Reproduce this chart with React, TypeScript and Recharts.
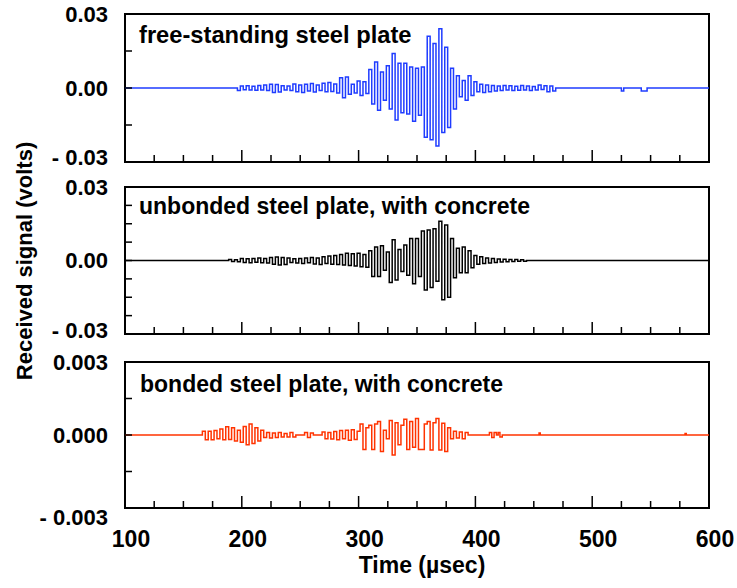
import { LineChart, Line, XAxis, YAxis, ReferenceArea } from 'recharts';

// time axis (microseconds)
const timeTicks = [100, 125, 150, 175, 200, 225, 250, 275, 300, 325, 350, 375, 400, 425, 450, 475, 500, 525, 550, 575, 600];
const sampleStep = 2.5;

// free-standing plate, mV, samples every 2.5 us from 190 us
const freeStart = 190;
const freeMv = [
  0, 0, 0, -1.0, 0.8, -0.7, 0.9, -0.8, 0.7, -0.9, 1.0, -0.8, 1.2, -1.0, 1.5, -1.8,
  1.4, -1.6, 0.9, -0.8, 0.8, -1.0, 1.6, -1.5, 1.2, -1.8, 1.5, -1.2, 1.8, -1.6, 1.2, -1.0,
  1.9, -1.5, 2.2, -1.4, 1.6, -2.0, 4.2, -4.0, 4.5, -2.5, 1.5, -2.0, 2.8, -3.0, 2.5, -2.2,
  7.5, -6.5, 10.5, -9.0, 6.5, -5.0, 9.0, -8.5, 14.0, -13.0, 10.0, -10.0, 10.0, -10.5, 8.5, -13.5,
  8.0, -11.0, 8.5, -20.0, 21.0, -21.0, 18.0, -23.5, 24.0, -18.0, 16.5, -16.0, 8.0, -8.5, 5.0, -3.5,
  3.0, -5.0, 5.0, -3.0, 2.5, -1.5, 1.5, -1.8, 1.2, -1.5, 1.0, -1.2, 0.8, -1.0, 1.0, -0.8,
  0.9, -1.0, 0.7, -0.9, 1.0, -0.8, 0.8, -1.0, 0.6, -0.8, 1.2, -0.6, 0.9, -1.5, 0.8, -1.2, 0,
];
const freeBlips: [number, number][] = [[524, 0], [526, -1.2], [528, 0], [541, 0], [543, -1.2], [546, -1.2], [548, 0]];

// unbonded plate with concrete, mV, from 187.5 us
const unbondedStart = 187.5;
const unbondedMv = [
  0, 0.4, -0.4, 0.3, -0.5, 0.8, -0.8, 0.7, -0.9, 0.8, -0.7, 1.0, -0.9, 0.8, -1.0, 1.2, -1.5,
  1.4, -1.8, 1.2, -1.6, 1.0, -0.8, 0.7, -1.0, 0.8, -1.2, 1.0, -0.9, 1.2, -1.4, 1.0, -1.6,
  1.5, -1.2, 1.8, -1.5, 2.0, -1.6, 2.5, -1.8, 3.0, -2.0, 2.8, -2.2, 3.0, -2.5, 2.5, -2.8,
  4.0, -6.5, 5.5, -6.5, 6.0, -4.0, 3.5, -9.0, 8.5, -8.0, 4.5, -4.5, 6.3, -6.0, 9.0, -9.5,
  9.0, -6.5, 12.0, -12.0, 12.5, -11.0, 13.0, -8.5, 16.0, -16.0, 14.5, -15.0, 9.0, -7.0, 5.0, -5.0,
  5.5, -5.0, 4.0, -3.0, 2.0, -1.5, 1.5, -1.2, 1.0, -1.0, 0.8, -0.8, 0.6, -0.6, 0.5, -0.5,
  0.4, -0.4, 0.4, -0.3, 0.3, -0.3, 0,
];

// bonded plate with concrete, units of 0.1 mV, from 165 us
const bondedStart = 165;
const bondedTenthMv = [
  0, 1.5, -2.0, 1.5, -2.0, 1.8, -1.5, 2.5, -2.0, 3.4, -1.8, 3.0, -2.5, 2.0, -3.0, 3.5,
  -4.0, 4.5, -3.5, 3.0, -2.5, 2.0, -1.0, 1.0, -1.2, 0.8, -1.0, 1.0, -0.8, 0.6, -0.8, 1.0,
  -0.8, 0, 0, 0, 1.0, -1.0, 0.8, 0, 0, 0, 1.2, -1.5, 1.0, -1.6, 1.4, -2.0,
  1.8, -1.5, 2.0, -2.2, 2.2, -1.8, 1.5, 4.5, -6.0, 3.0, 4.0, -6.0, 4.5, 5.5, -6.8, 2.0,
  -1.5, 6.0, -8.2, 5.0, -4.0, 4.0, 6.5, -6.0, 5.5, -5.0, 6.8, -6.0, -6.0, 4.5, 5.5, -6.2,
  5.0, 6.8, -6.2, 4.8, -6.8, 3.0, -1.5, 1.5, -1.2, 1.2, -1.5, 1.0, 0,
];
const bondedBlips: [number, number][] = [
  [411, 0], [413, 1.0], [415, -1.0], [417, 1.0], [419, 0], [420, 1.0], [422, -0.8], [424, 0],
  [454, 0], [455, 0.8], [456, 0], [579, 0], [580, 0.6], [581, 0],
];

const freeTicks = [-0.03, -0.015, 0, 0.015, 0.03];
const freeTickLabels = ['- 0.03', '', '0.00', '', '0.03'];
const unbondedTicks = [-0.03, -0.0225, -0.015, -0.0075, 0, 0.0075, 0.015, 0.0225, 0.03];
const unbondedTickLabels = ['- 0.03', '', '', '', '0.00', '', '', '', '0.03'];
const bondedTicks = [-0.003, -0.0015, 0, 0.0015, 0.003];
const bondedTickLabels = ['- 0.003', '', '0.000', '', '0.003'];

const FONT = '"Liberation Sans", Arial, Helvetica, sans-serif';
const X_AXIS_H = 30;

function buildSeries(start: number, values: number[], unit: number, blips: [number, number][]) {
  const pts = [{ t: 100, v: 0 }];
  values.forEach((val, i) => pts.push({ t: start + i * sampleStep, v: val * unit }));
  blips.forEach(([t, val]) => pts.push({ t, v: val * unit }));
  pts.push({ t: 600, v: 0 });
  return pts;
}

const freeData = buildSeries(freeStart, freeMv, 0.001, freeBlips);
const unbondedData = buildSeries(unbondedStart, unbondedMv, 0.001, []);
const bondedData = buildSeries(bondedStart, bondedTenthMv, 0.0001, bondedBlips);

function XTick(props: any) {
  const { x, y, payload, showLabels } = props;
  const major = payload.value % 100 === 0;
  const edge = payload.value === 100 || payload.value === 600;
  return (
    <g>
      {!edge && <line x1={x} x2={x} y1={y} y2={y - (major ? 12 : 7)} stroke="#000" strokeWidth={1.5} />}
      {showLabels && major && (
        <text x={x + 6} y={y + 39} textAnchor="middle" fontFamily={FONT} fontWeight="bold" fontSize={23} fill="#000">
          {payload.value}
        </text>
      )}
    </g>
  );
}

function YTick(props: any) {
  const { x, y, index, labels, shifts } = props;
  const last = labels.length - 1;
  const label = labels[index];
  return (
    <g>
      {index !== 0 && index !== last && <line x1={x} x2={x + 7} y1={y} y2={y} stroke="#000" strokeWidth={1.5} />}
      {label && (
        <text x={x - 17} y={y + (shifts[index] || 0)} dy="0.36em" textAnchor="end" fontFamily={FONT} fontWeight="bold" fontSize={22} fill="#000">
          {label}
        </text>
      )}
    </g>
  );
}

interface PanelProps {
  data: { t: number; v: number }[];
  color: string;
  top: number;
  bottom: number;
  ticks: number[];
  labels: string[];
  shifts: Record<number, number>;
  showXLabels?: boolean;
}

function Panel({ data, color, top, bottom, ticks, labels, shifts, showXLabels }: PanelProps) {
  const lo = ticks[0];
  const hi = ticks[ticks.length - 1];
  return (
    <div style={{ position: 'absolute', left: 0, top: 0 }}>
      <LineChart width={737} height={588} data={data} margin={{ top, right: 28, bottom: 588 - bottom - X_AXIS_H, left: 0 }}>
        <XAxis
          dataKey="t"
          type="number"
          domain={[100, 600]}
          ticks={timeTicks}
          interval={0}
          height={X_AXIS_H}
          axisLine={false}
          tickLine={false}
          tickSize={0}
          tickMargin={0}
          tick={(p: any) => <XTick {...p} showLabels={showXLabels} />}
          allowDataOverflow
        />
        <YAxis
          type="number"
          domain={[lo, hi]}
          ticks={ticks}
          interval={0}
          width={125}
          axisLine={false}
          tickLine={false}
          tickSize={0}
          tickMargin={0}
          tick={(p: any) => <YTick {...p} labels={labels} shifts={shifts} />}
          allowDataOverflow
        />
        <ReferenceArea x1={100} x2={600} y1={lo} y2={hi} fill="none" fillOpacity={0} stroke="#000" strokeWidth={2} ifOverflow="visible" />
        <Line type="step" dataKey="v" stroke={color} strokeWidth={1.5} dot={false} isAnimationActive={false} />
      </LineChart>
    </div>
  );
}

export default function App() {
  return (
    <div style={{ position: 'absolute', left: 0, top: 0, width: 737, height: 588, background: '#fff', fontFamily: FONT }}>
      <Panel data={freeData} color="#1f3cff" top={14} bottom={162} ticks={freeTicks} labels={freeTickLabels} shifts={{ 0: -5 }} />
      <Panel data={unbondedData} color="#000000" top={187} bottom={334} ticks={unbondedTicks} labels={unbondedTickLabels} shifts={{ 0: -4 }} />
      <Panel data={bondedData} color="#ff3300" top={362} bottom={508} ticks={bondedTicks} labels={bondedTickLabels} shifts={{ 0: 9 }} showXLabels />
      <svg width={737} height={588} style={{ position: 'absolute', left: 0, top: 0, pointerEvents: 'none' }}>
        <g fontFamily={FONT} fontWeight="bold" fill="#000">
          <text x={139} y={43} fontSize={23.7}>free-standing steel plate</text>
          <text x={139} y={214} fontSize={23}>unbonded steel plate, with concrete</text>
          <text x={140} y={392} fontSize={23}>bonded steel plate, with concrete</text>
          <text x={422} y={573} fontSize={23} textAnchor="middle">Time (µsec)</text>
          <text transform="translate(32,261) rotate(-90)" fontSize={22} textAnchor="middle">Received signal (volts)</text>
        </g>
      </svg>
    </div>
  );
}
